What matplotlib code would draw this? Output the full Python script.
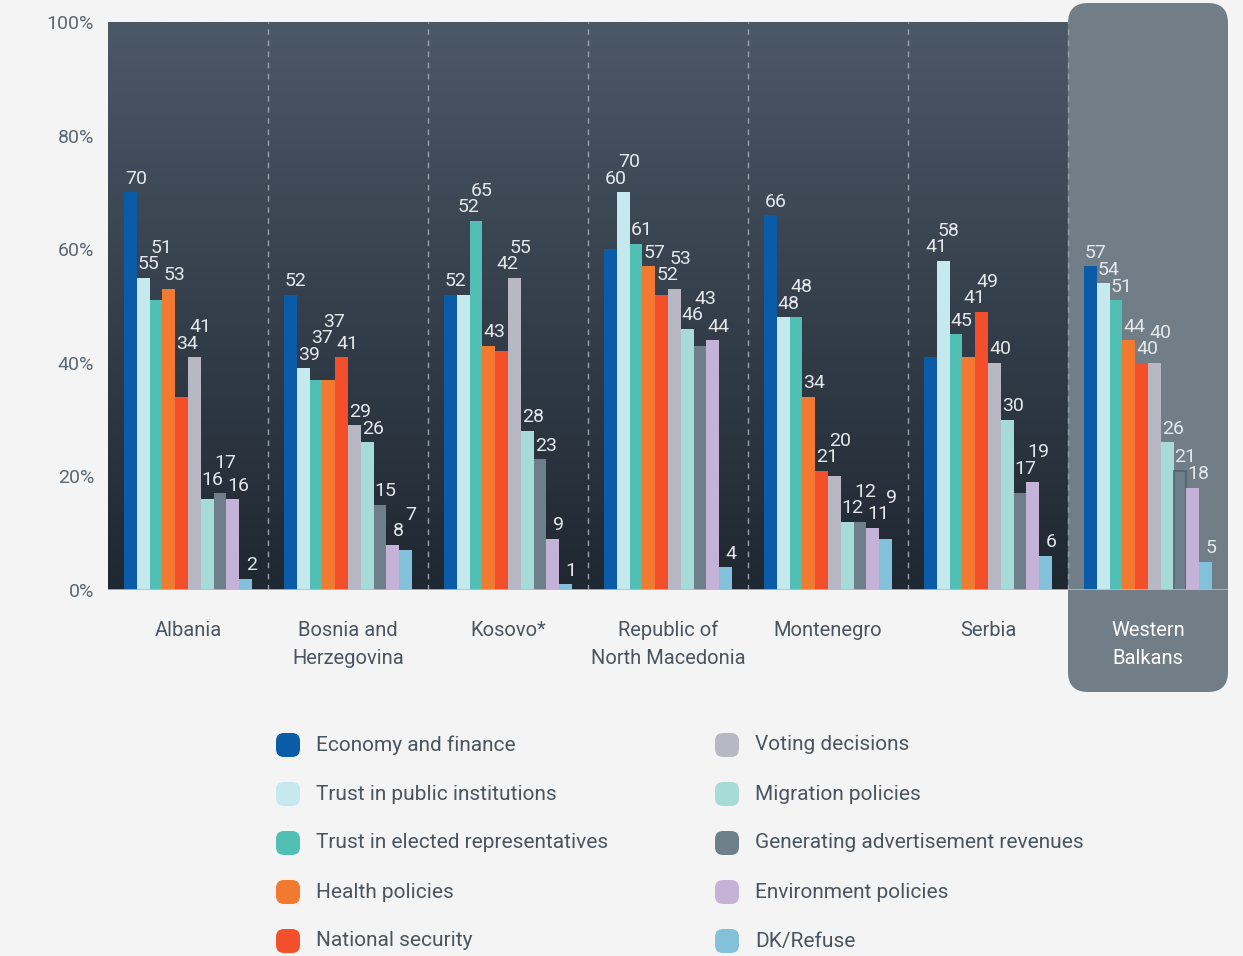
import numpy as np
import matplotlib
matplotlib.use("Agg")
import matplotlib.pyplot as plt
import matplotlib.transforms as mtransforms
from matplotlib.patches import FancyBboxPatch

# donnees
countries = ["Albania", "Bosnia and\nHerzegovina", "Kosovo*", "Republic of\nNorth Macedonia",
             "Montenegro", "Serbia", "Western\nBalkans"]
series = ["Economy and finance", "Trust in public institutions", "Trust in elected representatives",
          "Health policies", "National security", "Voting decisions", "Migration policies",
          "Generating advertisement revenues", "Environment policies", "DK/Refuse"]
colors = ["#0a5ca8", "#c6e9ef", "#52bfb4", "#f27a30", "#f24f2a",
          "#b8b8c4", "#a7dbd8", "#6e7f89", "#c4b3d7", "#82c1d9"]
values = [
    [70, 52, 52, 60, 66, 41, 57],   # Economy and finance
    [55, 39, 52, 70, 48, 58, 54],   # Trust in public institutions
    [51, 37, 65, 61, 48, 45, 51],   # Trust in elected representatives
    [53, 37, 43, 57, 34, 41, 44],   # Health policies
    [34, 41, 42, 52, 21, 49, 40],   # National security
    [41, 29, 55, 53, 20, 40, 40],   # Voting decisions
    [16, 26, 28, 46, 12, 30, 26],   # Migration policies
    [17, 15, 23, 43, 12, 17, 21],   # Generating advertisement revenues
    [16, 8, 9, 44, 11, 19, 18],     # Environment policies
    [2, 7, 1, 4, 9, 6, 5],          # DK/Refuse
]
yticks = [0, 20, 40, 60, 80, 100]

plt.rcParams['font.family'] = ['Roboto', 'DejaVu Sans']

W, H = 12.43, 9.56
fig = plt.figure(figsize=(W, H), dpi=100, facecolor="#f4f4f4")
x0, x1 = 108 / 1243, 1228 / 1243
y0, y1 = 366 / 956, 934 / 956
ax = fig.add_axes([x0, y0, x1 - x0, y1 - y0])
ax.set_facecolor("none")

n = len(countries)
ax.set_xlim(-0.5, n - 0.5)
ax.set_ylim(0, 100)

# fond degrade sur les pays
grad = np.linspace(0, 1, 256).reshape(-1, 1)
top = np.array([0x4b, 0x58, 0x66]) / 255
bot = np.array([0x1f, 0x27, 0x31]) / 255
img = bot + (top - bot) * grad
ax.imshow(img[:, None, :].repeat(2, axis=1), extent=(-0.5, n - 1.5, 0, 100),
          origin="lower", aspect="auto", zorder=0)

# boite Western Balkans (en pouces pour des coins ronds)
bx0 = (x0 + (x1 - x0) * (n - 1) / n) * W
bw = (x1 - x0) / n * W
box = FancyBboxPatch((bx0, 2.64), bw, 6.89, boxstyle="round,pad=0,rounding_size=0.2",
                     transform=fig.dpi_scale_trans, facecolor="#717e88", edgecolor="none", zorder=-1)
fig.patches.append(box)

# separateurs
for k in range(n - 1):
    ax.plot([k + 0.5, k + 0.5], [0, 100], color="#98a2ac", lw=1, ls=(0, (4, 4)), zorder=1)

# barres
bw_bar = 0.08
nb = len(series)
xs = np.arange(n)
for i in range(nb):
    bars = ax.bar(xs + (i - (nb - 1) / 2) * bw_bar, values[i], width=bw_bar, color=colors[i],
                  edgecolor="none", zorder=2)
    # dans la boite grise, la barre de meme couleur a un contour
    if colors[i] == "#6e7f89":
        bars[-1].set_edgecolor("#55626c")
        bars[-1].set_linewidth(1.2)

# etiquettes: evite les chevauchements (decalage vers la droite)
lab_w, lab_h, off = 0.135, 2.9, 0.035
for g in range(n):
    placed = []
    for i in range(nb):
        cx = g + (i - (nb - 1) / 2) * bw_bar + off
        v = values[i][g]
        y = v
        if i + 1 < nb:
            y = max(y, values[i + 1][g])
        y += 0.8
        moved = True
        while moved:
            moved = False
            for (px, py) in placed:
                if abs(px - cx) < lab_w and py - lab_h < y < py + lab_h:
                    y = py + lab_h
                    moved = True
        placed.append((cx, y))
        ax.text(cx, y, str(v), ha="center", va="bottom", color="#e4e8eb", fontsize=14, zorder=3)

ax.axhline(0, color="#b5bcc3", lw=1.2, zorder=3)

ax.set_yticks(yticks)
ax.set_yticklabels([f"{t}%" for t in yticks], color="#5c6873", fontsize=14)
shift = mtransforms.ScaledTranslation(0, -4 / 100, fig.dpi_scale_trans)
for lab in ax.get_yticklabels():
    lab.set_transform(lab.get_transform() + shift)
ax.set_xticks(xs)
ax.set_xticklabels(countries, fontsize=14.5, color="#4a5560", linespacing=1.6)
ax.get_xticklabels()[-1].set_color("white")
ax.tick_params(axis="x", length=0, pad=22)
ax.tick_params(axis="y", length=0, pad=10)
for s in ax.spines.values():
    s.set_visible(False)

# legende
rows = [745, 794, 843, 892, 941]
cols = [(276, 316), (715, 755)]
for i, name in enumerate(series):
    c, r = divmod(i, 5)
    mx, tx = cols[c]
    yc = (956 - rows[r]) / 100
    fig.patches.append(FancyBboxPatch((mx / 100, yc - 0.12), 0.24, 0.24,
                                      boxstyle="round,pad=0,rounding_size=0.08",
                                      transform=fig.dpi_scale_trans, facecolor=colors[i],
                                      edgecolor="none"))
    fig.text(tx / 1243, yc / H, name, fontsize=15, color="#4a5560", va="center", ha="left")

fig.savefig("out.png", dpi=100, facecolor=fig.get_facecolor())
